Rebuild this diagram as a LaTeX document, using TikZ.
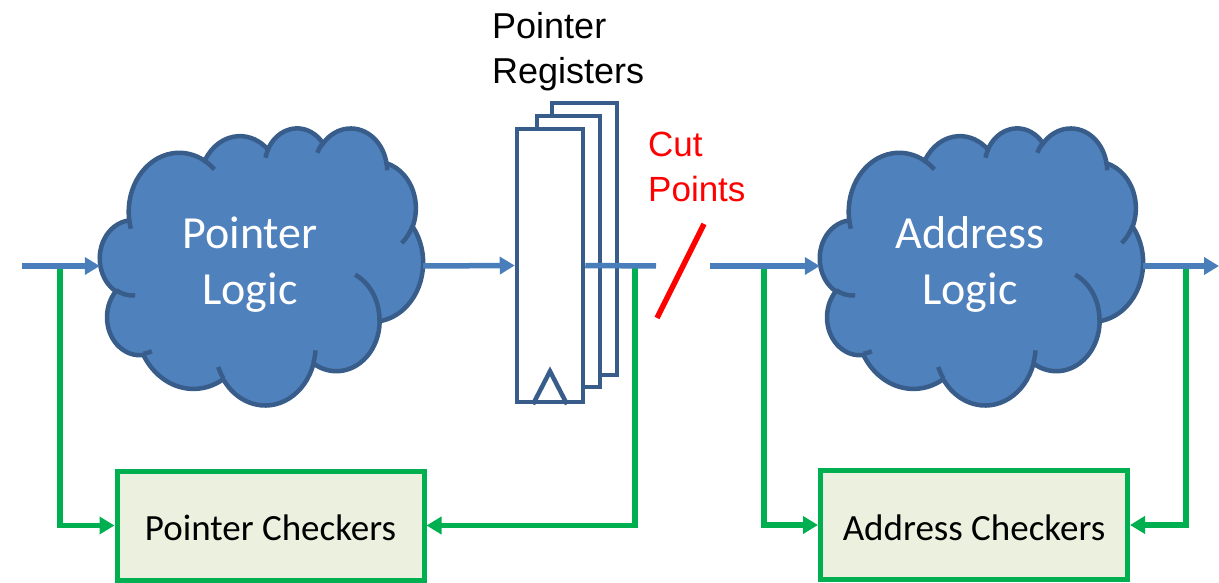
\documentclass[tikz,border=0pt]{standalone}
\usepackage{fontspec}
\newfontfamily\calibri{Carlito}
\newfontfamily\arial{Liberation Sans}
\usetikzlibrary{arrows.meta}

\definecolor{cloudfill}{HTML}{4F81BD}
\definecolor{cloudedge}{HTML}{385D8A}
\definecolor{wire}{HTML}{4A7EBB}
\definecolor{chk}{HTML}{00B050}
\definecolor{chkfill}{HTML}{EBF1DE}

% Elliptic arc given by radii and a start/sweep angle measured as the
% direction from the centre (converted here to the parametric angle).
\newcommand\carc[4]{%
  \pgfextra{%
    \pgfmathparse{atan2((#1)*sin(#3),(#2)*cos(#3))}\xdef\cldS{\pgfmathresult}%
    \pgfmathparse{mod(atan2((#1)*sin((#3)+(#4)),(#2)*cos((#3)+(#4)))-\cldS+720,360)}\xdef\cldD{\pgfmathresult}%
  }
  arc[x radius=#1, y radius=#2, start angle=\cldS, delta angle=\cldD]}

% Cloud outline with its inner bump strokes; #1 is the top-left corner
\newcommand\drawcloud[1]{%
  \begin{scope}[shift={#1}, x=0.7477pt, y=-0.6412pt, line width=4.5pt]
    \filldraw[draw=cloudedge, fill=cloudfill] (39.00,143.70)
      \carc{67.53}{91.90}{-190.4875}{123.7805}
      \carc{53.33}{72.67}{-144.1024}{89.9452}
      \carc{43.65}{59.45}{-145.8079}{99.7230}
      \carc{48.57}{65.95}{-130.9861}{117.2417}
      \carc{53.33}{72.73}{-78.7089}{109.0269}
      \carc{67.75}{92.20}{-46.2673}{130.2690}
      \carc{57.85}{78.67}{0.6250}{114.0333}
      \carc{67.52}{92.15}{22.4516}{115.1726}
      \carc{77.20}{105.43}{66.2426}{75.7110}
      \carc{43.60}{59.18}{-274.9421}{146.7356}
      \carc{43.45}{59.45}{-246.8285}{152.5189}
      -- cycle;
    \draw[cloudedge]
      (46.93,261.77) \carc{43.45}{59.45}{86.7420}{26.4295}
      (69.28,348.99) \carc{43.60}{59.18}{73.6105}{11.4475}
      (164.78,390.90) \carc{67.52}{92.15}{137.6242}{14.0811}
      (288.27,347.51) \carc{67.52}{92.15}{6.4533}{15.9984}
      (341.29,229.54) \carc{57.85}{78.67}{-70.2924}{70.9174}
      (417.98,153.54) \carc{53.33}{72.73}{30.3180}{27.7515}
      (383.24,54.26) \carc{48.57}{65.95}{-13.7443}{14.8512}
      (290.78,39.52) \carc{48.57}{65.95}{-149.1815}{18.1835}
      (221.41,47.20) \carc{43.65}{59.45}{-163.4943}{17.6977}
      (140.00,51.92) \carc{67.53}{91.90}{-66.7070}{12.3194}
      (41.27,157.89) \carc{67.53}{91.90}{157.6544}{11.8582};
  \end{scope}}

\tikzset{
  cloudbox/.style={minimum width=323pt, minimum height=277pt, inner sep=0pt},
  cloudlabel/.style={text=white, align=center, inner sep=0pt,
    font=\calibri\fontsize{46}{56}\selectfont},
  regbox/.style={draw=cloudedge, fill=white, line width=4.5pt, inner sep=0pt},
  sig/.style={draw=wire, line width=5.5pt},
  sigarrow/.style={sig, -{Triangle[length=15pt,width=17pt]}},
  chkline/.style={draw=chk, line width=5.5pt, -{Triangle[length=15pt,width=17pt]}},
  chkbox/.style={draw=chk, fill=chkfill, line width=5pt, minimum width=307pt,
    minimum height=109pt, inner sep=0pt, font=\calibri\fontsize{37}{44}\selectfont},
  chktext/.style={inner sep=0pt, font=\calibri\fontsize{37}{44}\selectfont},
  annot/.style={align=left, inner sep=0pt, anchor=north west},
}

\begin{document}
\begin{tikzpicture}[x=1pt, y=-1pt]
\useasboundingbox (0,0) rectangle (1219,583);

% logic clouds
\drawcloud{(100,127.5)}
\drawcloud{(820,127.5)}
\node[cloudbox] (pl) at (261.5,266) {};
\node[cloudbox] (al) at (981.5,266) {};
\node[cloudlabel] (pltxt) at (250,264.5) {Pointer\\Logic};
\node[cloudlabel] (altxt) at (970,264.5) {Address\\Logic};

% stacked pointer registers
\node[regbox, minimum width=65pt, minimum height=272pt] (reg3) at (584.5,239) {};
\node[regbox, minimum width=63pt, minimum height=271pt] (reg2) at (568.5,251.5) {};
\node[regbox, minimum width=66pt, minimum height=273pt] (reg) at (550,265.5) {};
\draw[cloudedge, line width=4.5pt]
  ([xshift=-17pt]reg.south) -- ([yshift=33pt]reg.south) -- ([xshift=17pt]reg.south);

% labels
\node[annot, font=\arial\fontsize{36}{45}\selectfont] (regtxt) at (492,12) {Pointer\\Registers};
\node[annot, text=red, font=\arial\fontsize{35}{45}\selectfont] (cuttxt) at (648,132) {Cut\\Points};

% checker boxes
\node[chkbox] (pc) at (270.5,525.5) {};
\node[chkbox] (ac) at (974,525) {};
\node[chktext] (pctxt) at (270.5,528) {Pointer Checkers};
\node[chktext] (actxt) at (974,528) {Address Checkers};

% wire end points and taps
\coordinate (in) at (22,266);
\coordinate (out) at (1219,266);
\coordinate (cutL) at (656,266);
\coordinate (cutR) at (710,266);
\coordinate (j1) at (60,266);
\coordinate (j2) at (635,266);
\coordinate (j3) at (764,266);
\coordinate (j4) at (1186,266);
\coordinate (s1) at (657,318);
\coordinate (s2) at (704,224);

% checker taps
\draw[chkline] (j1) |- (pc.west);
\draw[chkline] (j2) |- (pc.east);
\draw[chkline] (j3) |- (ac.west);
\draw[chkline] (j4) |- (ac.east);

% data path
\draw[sigarrow] (in) -- (pl.west);
\draw[sigarrow] (pl.east) -- (reg.west);
\draw[sig] (reg.east) -- (cutL);
\draw[sigarrow] (cutR) -- (al.west);
\draw[sigarrow] (al.east) -- (out);

% cut mark
\draw[red, line width=5.5pt] (s1) -- (s2);
\end{tikzpicture}
\end{document}
